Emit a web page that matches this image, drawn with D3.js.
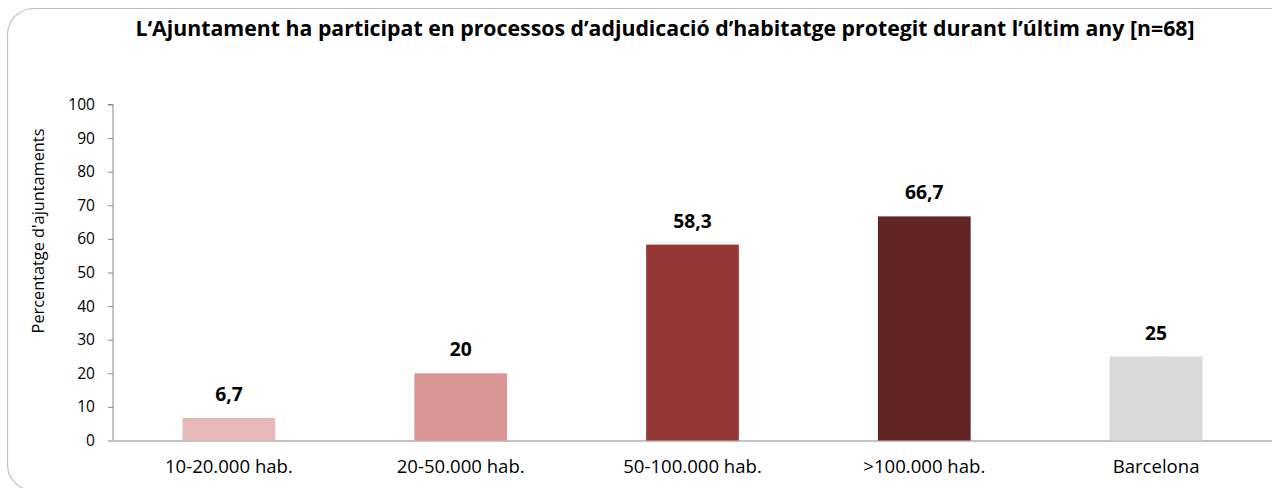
<!DOCTYPE html>
<html>
<head>
<meta charset="utf-8">
<script src="https://cdn.jsdelivr.net/npm/d3@7"></script>
<style>
  body { margin: 0; background: #fff; }
  svg { display: block; }
  text { font-family: "Open Sans", "Noto Sans", sans-serif; fill: #000; }
</style>
</head>
<body>
<div id="chart"></div>
<script>
// data
var categories = ["10-20.000 hab.", "20-50.000 hab.", "50-100.000 hab.", ">100.000 hab.", "Barcelona"];
var values = [6.7, 20, 58.3, 66.7, 25];
var barColors = ["#e6b9b8", "#d99694", "#953735", "#632523", "#d9d9d9"];
var yTicks = [0, 10, 20, 30, 40, 50, 60, 70, 80, 90, 100];

var titleText = "L\u2018Ajuntament ha participat en processos d\u2019adjudicació d\u2019habitatge protegit durant l\u2019últim any [n=68]";
var yLabel = "Percentatge d'ajuntaments";

var width = 1272;
var height = 488;

var svg = d3.select("#chart")
    .append("svg")
    .attr("width", width)
    .attr("height", height);

// rounded frame round the chart
svg.append("rect")
    .attr("x", 7.5)
    .attr("y", 8.5)
    .attr("width", 1290)
    .attr("height", 482)
    .attr("rx", 26)
    .attr("fill", "none")
    .attr("stroke", "#bfbfbf")
    .attr("stroke-width", 1.2);

// font size so that one sample text gets a target width
function sizeFor(sample, target, weight) {
  var t = svg.append("text")
      .style("font-size", "20px")
      .style("font-weight", weight || "normal")
      .text(sample);
  var w = t.node().getComputedTextLength();
  t.remove();
  return 20 * target / w;
}

var tickSize = sizeFor("100", 26.7);
var catSize = sizeFor("10-20.000 hab.", 128);
var valSize = sizeFor("58,3", 38.5, "bold");
var titleSize = sizeFor(titleText, 1060, "bold");
var yLabSize = sizeFor(yLabel, 205);

// scales
var xScale = d3.scaleBand()
    .domain(categories)
    .range([113, 1272])
    .paddingInner(0.6)
    .paddingOuter(0.3);

var yScale = d3.scaleLinear()
    .domain([0, 100])
    .range([440.5, 104.5]);

// y axis
var yAxis = d3.axisLeft(yScale)
    .tickValues(yTicks)
    .tickSize(5)
    .tickPadding(13);

var gy = svg.append("g")
    .attr("transform", "translate(113,0)")
    .call(yAxis);
gy.selectAll("path, line").attr("stroke", "#868686");
gy.select(".domain").attr("d", "M-5,104.5H0V440.5");
gy.selectAll("text")
    .style("font-size", tickSize + "px")
    .attr("fill", "#000");

// x axis
var xAxis = d3.axisBottom(xScale)
    .tickSize(0)
    .tickPadding(19);

var gx = svg.append("g")
    .attr("transform", "translate(0,440.5)")
    .call(xAxis);
gx.select(".domain").attr("stroke", "#868686");
gx.selectAll("text")
    .style("font-size", catSize + "px")
    .attr("fill", "#000");

// bars
svg.selectAll("rect.bar")
    .data(values)
    .enter()
    .append("rect")
    .attr("class", "bar")
    .attr("x", function(d, i) { return xScale(categories[i]); })
    .attr("width", xScale.bandwidth())
    .attr("y", function(d) { return yScale(d); })
    .attr("height", function(d) { return yScale(0) - yScale(d); })
    .attr("fill", function(d, i) { return barColors[i]; });

// value labels
svg.selectAll("text.val")
    .data(values)
    .enter()
    .append("text")
    .attr("class", "val")
    .attr("x", function(d, i) { return xScale(categories[i]) + xScale.bandwidth() / 2; })
    .attr("y", function(d) { return yScale(d) - 17; })
    .attr("text-anchor", "middle")
    .style("font-weight", "bold")
    .style("font-size", valSize + "px")
    .text(function(d) { return String(d).replace(".", ","); });

// title
svg.append("text")
    .attr("x", 665)
    .attr("y", 36)
    .attr("text-anchor", "middle")
    .style("font-weight", "bold")
    .style("font-size", titleSize + "px")
    .text(titleText);

// y label
svg.append("text")
    .attr("transform", "translate(44,231)rotate(-90)")
    .attr("text-anchor", "middle")
    .style("font-size", yLabSize + "px")
    .text(yLabel);
</script>
</body>
</html>
